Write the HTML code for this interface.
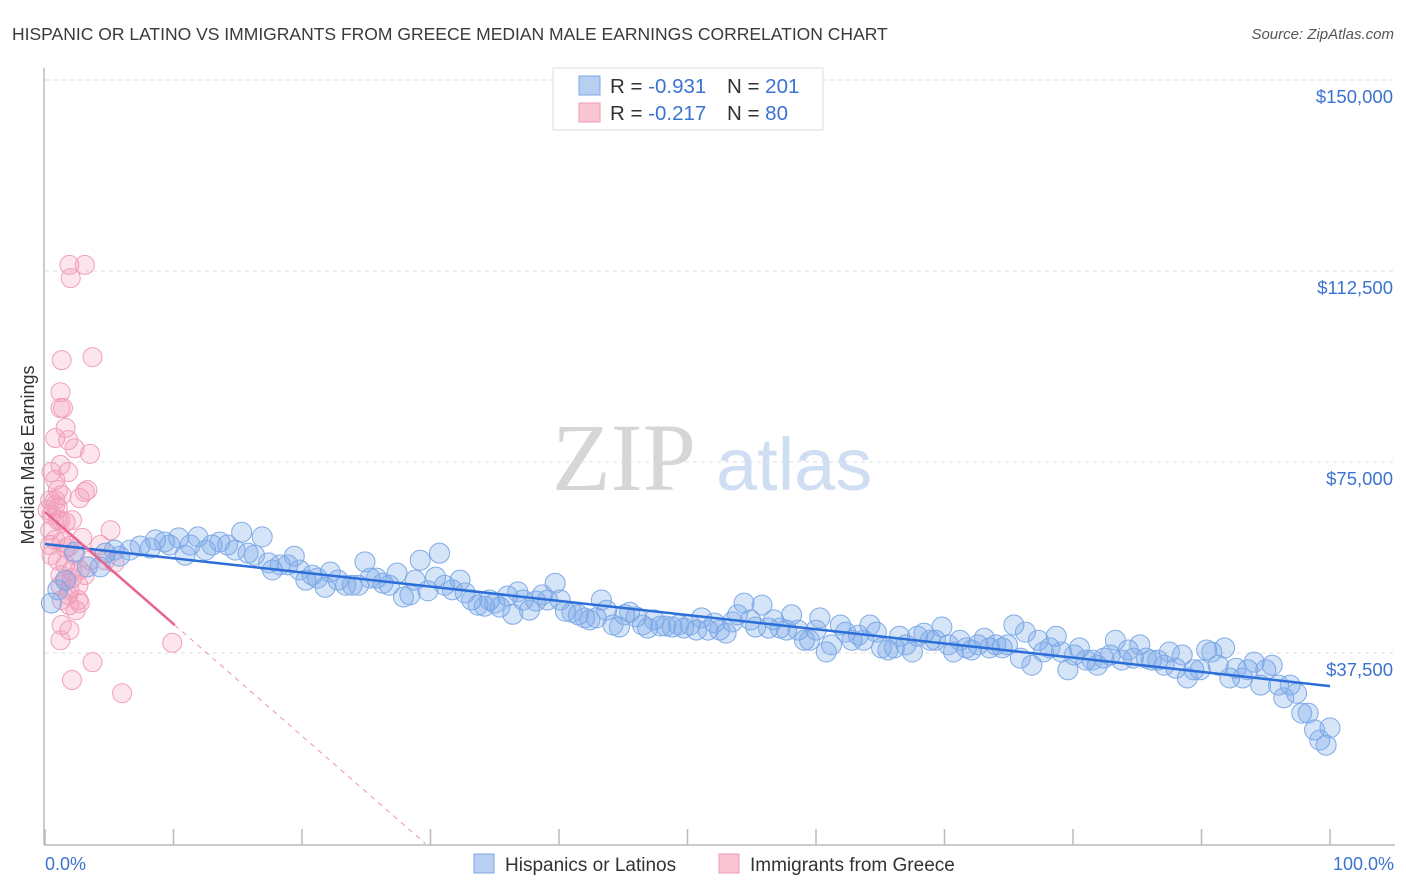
<!DOCTYPE html>
<html><head><meta charset="utf-8"><style>
body{margin:0;background:#fff;font-family:"Liberation Sans",sans-serif;}
svg{display:block}
</style></head><body>
<svg id="chart" width="1406" height="892">
<text x="12" y="40" font-size="17.5" fill="#3a3a3a">HISPANIC OR LATINO VS IMMIGRANTS FROM GREECE MEDIAN MALE EARNINGS CORRELATION CHART</text>
<text x="1394" y="39" font-size="15" fill="#555" font-style="italic" text-anchor="end">Source: ZipAtlas.com</text>
<text x="34" y="455" font-size="18" fill="#333" text-anchor="middle" transform="rotate(-90 34 455)">Median Male Earnings</text>
<g>
<text x="552" y="490" font-size="96" fill="#d6d6d6" font-family="Liberation Serif,serif">ZIP</text>
<text x="716" y="490" font-size="74" fill="#cfdef3">atlas</text>
</g>
<g id="grid"></g><g id="axes"></g><g id="pts"></g><g id="trend"></g>
<g>
<rect x="553" y="68" width="270" height="62" fill="#fff" stroke="#ddd"/>
<rect x="579" y="76" width="21" height="19" fill="#b7d0f2" stroke="#7ea6e4"/>
<rect x="579" y="103" width="21" height="19" fill="#fbc5d4" stroke="#ee9ab3"/>
<text x="610" y="93" font-size="20.5" fill="#333">R = <tspan fill="#3b73d1">-0.931</tspan></text>
<text x="727" y="93" font-size="20.5" fill="#333">N = <tspan fill="#3b73d1">201</tspan></text>
<text x="610" y="120" font-size="20.5" fill="#333">R = <tspan fill="#3b73d1">-0.217</tspan></text>
<text x="727" y="120" font-size="20.5" fill="#333">N = <tspan fill="#3b73d1"> 80</tspan></text>
</g>
<g>
<rect x="474" y="854" width="20" height="19" fill="#b7d0f2" stroke="#7ea6e4"/>
<text x="505" y="871" font-size="19" fill="#333">Hispanics or Latinos</text>
<rect x="719" y="854" width="20" height="19" fill="#fbc5d4" stroke="#ee9ab3"/>
<text x="750" y="871" font-size="19" fill="#333">Immigrants from Greece</text>
</g>
<text x="45" y="870" font-size="18" fill="#3b73d1">0.0%</text>
<text x="1394" y="870" font-size="18" fill="#3b73d1" text-anchor="end">100.0%</text>
</svg>
<script>
const yTicks=[37500,75000,112500,150000];
const yTickLabels=["$37,500","$75,000","$112,500","$150,000"];
const blueX=[0.5,1.0,1.6,2.3,3.3,4.3,4.7,5.4,5.8,6.6,7.4,8.2,8.6,9.3,9.7,10.4,10.9,11.3,11.9,12.5,13.0,13.6,14.2,14.8,15.3,15.8,16.3,16.9,17.4,17.7,18.3,18.9,19.4,19.8,20.3,20.8,21.2,21.8,22.2,22.8,23.4,23.9,24.4,24.9,25.3,25.8,26.3,26.8,27.4,27.9,28.4,28.8,29.2,29.8,30.4,30.7,31.1,31.7,32.3,32.7,33.2,33.7,34.2,34.6,35.0,35.4,36.0,36.4,36.8,37.2,37.7,38.2,38.7,39.1,39.7,40.1,40.5,41.0,41.5,42.0,42.4,42.9,43.3,43.7,44.2,44.7,45.1,45.5,46.0,46.5,46.9,47.4,47.9,48.3,48.8,49.3,49.7,50.2,50.7,51.1,51.6,52.1,52.5,53.0,53.5,53.9,54.4,54.9,55.3,55.8,56.3,56.7,57.2,57.7,58.1,58.6,59.1,59.5,60.0,60.3,60.8,61.2,61.9,62.3,62.8,63.3,63.7,64.2,64.7,65.1,65.6,66.1,66.5,67.0,67.5,67.9,68.4,68.9,69.3,69.8,70.3,70.7,71.2,71.7,72.1,72.6,73.1,73.5,74.0,74.5,74.9,75.4,75.9,76.3,76.8,77.3,77.7,78.2,78.7,79.1,79.6,80.1,80.5,81.0,81.5,81.9,82.4,82.9,83.3,83.8,84.3,84.7,85.2,85.7,86.1,86.6,87.1,87.5,88.0,88.5,88.9,89.4,89.9,90.4,90.8,91.3,91.8,92.2,92.7,93.2,93.6,94.1,94.6,95.0,95.5,96.0,96.4,96.9,97.4,97.8,98.3,98.8,99.2,99.7,100.0];
const blueY=[47.3,49.9,51.8,57.3,54.4,54.4,57.1,57.7,56.5,57.7,58.5,58.1,59.7,59.3,58.7,60.1,56.7,58.7,60.3,57.7,58.7,59.3,58.7,57.7,61.2,57.1,56.7,60.3,55.2,53.8,54.8,54.8,56.5,53.8,51.8,52.8,52.2,50.4,53.4,51.8,50.8,50.8,50.8,55.4,52.2,52.2,51.2,50.8,53.2,48.5,48.9,51.8,55.7,49.7,52.4,57.1,50.8,49.9,51.8,49.3,47.9,46.9,46.7,47.9,47.3,46.5,48.7,45.1,49.5,47.9,45.9,47.7,48.9,47.9,51.2,47.9,45.7,45.5,45.0,44.4,44.0,44.4,47.9,45.9,43.0,42.6,45.0,45.5,44.6,43.0,42.4,44.0,42.8,42.8,42.6,43.0,42.4,43.0,42.0,44.4,42.0,43.4,42.0,41.4,43.6,45.0,47.3,44.0,42.6,46.9,42.4,44.0,42.4,42.0,45.0,42.0,40.0,40.0,42.0,44.4,37.7,39.1,43.0,41.6,40.0,41.0,40.0,43.0,41.6,38.5,38.1,38.5,40.8,39.1,37.7,40.8,41.4,40.0,40.0,42.6,39.1,37.7,40.0,38.5,38.1,39.1,40.4,38.5,39.1,38.5,39.1,43.0,36.5,41.6,35.1,40.0,37.7,38.5,40.8,37.7,34.2,37.1,38.5,36.1,36.1,35.1,36.5,37.1,40.0,36.1,38.1,36.5,39.1,36.5,36.1,36.1,35.1,37.7,34.5,37.1,32.6,34.2,34.2,38.1,37.7,35.1,38.5,32.6,34.5,32.6,34.2,35.7,31.2,34.2,35.1,31.2,28.7,31.2,29.6,25.7,25.7,22.4,20.4,19.4,22.8];
const pinkX=[1.9,3.1,2.0,1.3,3.7,1.2,1.2,1.4,1.6,0.8,1.8,2.3,3.5,1.2,1.8,3.3,0.5,0.8,1.0,1.3,0.4,0.8,1.0,0.5,1.2,1.6,2.1,2.7,3.1,0.4,0.8,1.3,1.9,2.9,5.1,0.5,1.0,1.6,2.1,1.2,1.6,2.1,2.7,4.3,4.7,5.4,1.2,1.9,2.6,1.3,1.9,2.6,2.7,1.3,1.9,1.2,3.7,2.1,6.0,9.9,0.8,0.2,0.4,1.0,1.6,2.3,3.1,3.5,1.8,2.4];
const pinkY=[113.7,113.7,111.1,95.0,95.6,88.7,85.6,85.6,81.7,79.7,79.3,77.7,76.6,74.4,73.0,69.5,73.0,71.5,69.5,68.5,67.5,66.5,66.0,64.6,63.6,63.2,63.6,67.9,69.1,61.6,59.7,59.3,58.5,60.1,61.6,56.7,55.7,54.8,53.8,52.8,51.8,52.2,53.8,58.7,55.7,55.2,50.8,49.9,50.8,47.9,46.9,47.9,47.3,43.0,42.0,40.0,35.7,32.2,29.6,39.5,67.5,65.6,58.7,63.6,58.1,56.7,52.8,55.7,48.9,45.9];
const blueTrend=[58.9,31.0];
const pinkTrend=[65.2,-2.2,10.1,29.6];

const NS="http://www.w3.org/2000/svg";
const X0=45,X1=1330,Y0=844,PXK=191/37.5;
const sx=v=>X0+(X1-X0)*v/100;
const sy=k=>Y0-k*PXK;
function mk(tag,attrs,parent){const e=document.createElementNS(NS,tag);for(const k in attrs)e.setAttribute(k,attrs[k]);parent.appendChild(e);return e;}
const grid=document.getElementById('grid'),axes=document.getElementById('axes'),pts=document.getElementById('pts'),trend=document.getElementById('trend');
yTicks.forEach((t,i)=>{
  const y=sy(t/1000);
  const l=mk('line',{x1:45,x2:1395,y1:y,y2:y,stroke:'#ddd','stroke-dasharray':'4,4'},grid);
  
  
  const tx=mk('text',{x:1393,y:y+23,'font-size':18.5,fill:'#3b73d1','text-anchor':'end'},grid);
  tx.textContent=yTickLabels[i];
  
  
});
const ya=mk('line',{x1:44,x2:44,y1:68,y2:845,stroke:'#bbb','stroke-width':1.5},axes);


const xa=mk('line',{x1:44,x2:1395,y1:845,y2:845,stroke:'#bbb','stroke-width':1.5},axes);


for(let i=0;i<=10;i++){
  const x=sx(i*10);
  const tk=mk('line',{x1:x,x2:x,y1:829,y2:845,stroke:'#bbb','stroke-width':1.5},axes);
  
  
}
pinkX.forEach((v,i)=>{
  const c=mk('circle',{cx:sx(v),cy:sy(pinkY[i]),r:9.5,fill:'rgba(244,150,182,0.25)',stroke:'#f0a0ba','stroke-width':1},pts);
  
  
});
blueX.forEach((v,i)=>{
  const c=mk('circle',{cx:sx(v),cy:sy(blueY[i]),r:10,fill:'rgba(120,165,232,0.3)',stroke:'#7eaae6','stroke-width':1},pts);
  
  
});
const bl=mk('line',{x1:sx(0),y1:sy(blueTrend[0]),x2:sx(100),y2:sy(blueTrend[1]),stroke:'#2b6ed8','stroke-width':2.5},trend);


const pv=x=>pinkTrend[0]+pinkTrend[1]*x;
const pd=mk('line',{x1:sx(pinkTrend[2]),y1:sy(pv(pinkTrend[2])),x2:sx(pinkTrend[3]),y2:sy(pv(pinkTrend[3])),stroke:'#ec93b0','stroke-width':1,'stroke-dasharray':'5,5'},trend);


const pl=mk('line',{x1:sx(0),y1:sy(pv(0)),x2:sx(pinkTrend[2]),y2:sy(pv(pinkTrend[2])),stroke:'#e8648e','stroke-width':2.5},trend);


</script>
</body></html>
